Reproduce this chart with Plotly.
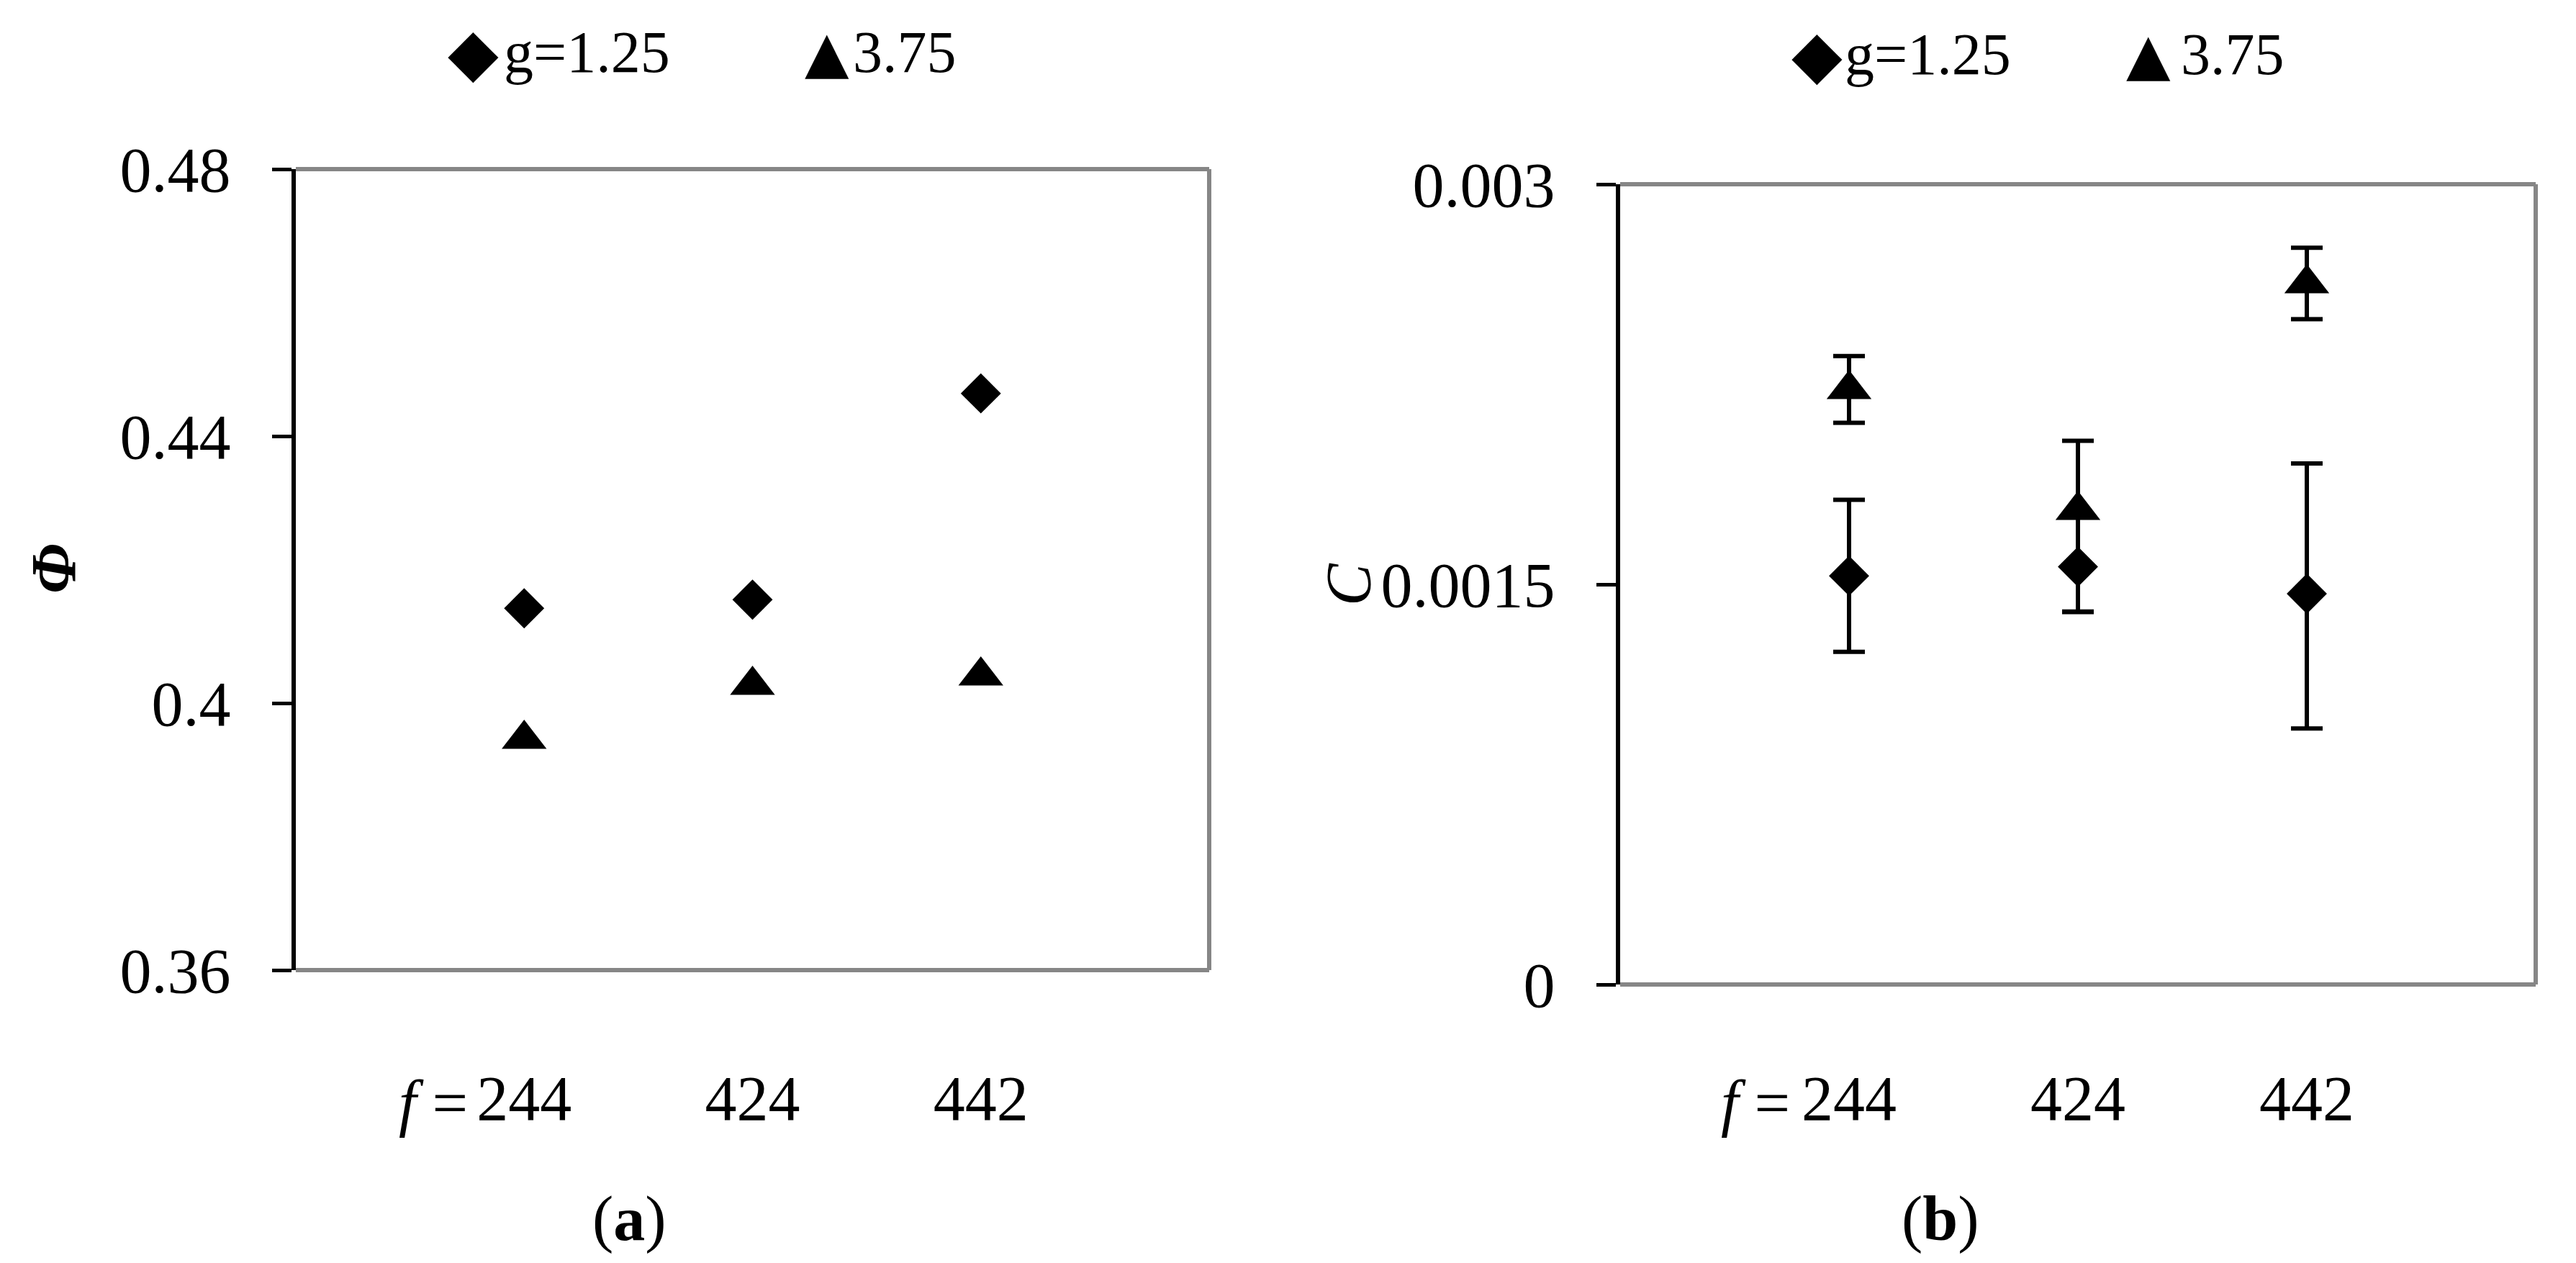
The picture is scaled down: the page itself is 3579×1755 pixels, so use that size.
import plotly.graph_objects as go

# ---------------- data ----------------
categories = ["244", "424", "442"]
cat_pos = [1, 2, 3]
series_names = ["g=1.25", "3.75"]

phi_g125 = [0.4142, 0.4155, 0.4464]
phi_g375 = [0.3946, 0.4027, 0.4041]

c_g125 = [0.001532, 0.001566, 0.001465]
c_g125_err_plus = [0.000285, 0.00019, 0.000488]
c_g125_err_minus = [0.000285, 0.00017, 0.000505]
c_g375 = [0.002231, 0.001778, 0.002628]
c_g375_err_plus = [0.000125, 0.00026, 0.000134]
c_g375_err_minus = [0.000125, 0.00038, 0.000134]

phi_ticks = [0.36, 0.4, 0.44, 0.48]
phi_ticktext = ["0.36", "0.4", "0.44", "0.48"]
c_ticks = [0, 0.0015, 0.003]
c_ticktext = ["0", "0.0015", "0.003"]

# ---------------- layout helpers ----------------
W, H = 3579, 1755
FONT = "Liberation Serif, Times New Roman, serif"
GLYPH_FONT = "DejaVu Sans"
GRAY = "#868686"


def fx(p):
    return p / W


def fy(p):
    return 1 - p / H


fig = go.Figure()

diamond = dict(symbol="diamond", size=43, color="black")
triangle = dict(symbol="triangle-up", size=54, color="black")

fig.add_trace(go.Scatter(x=cat_pos, y=phi_g125, mode="markers", marker=diamond,
                         name=series_names[0], xaxis="x", yaxis="y", showlegend=False,
                         cliponaxis=False))
fig.add_trace(go.Scatter(x=cat_pos, y=phi_g375, mode="markers", marker=triangle,
                         name=series_names[1], xaxis="x", yaxis="y", showlegend=False,
                         cliponaxis=False))

err_style = dict(type="data", symmetric=False, color="black", thickness=6, width=22)
fig.add_trace(go.Scatter(x=cat_pos, y=c_g125, mode="markers", marker=diamond,
                         name=series_names[0], xaxis="x2", yaxis="y2", showlegend=False,
                         error_y=dict(array=c_g125_err_plus, arrayminus=c_g125_err_minus, **err_style),
                         cliponaxis=False))
fig.add_trace(go.Scatter(x=cat_pos, y=c_g375, mode="markers", marker=triangle,
                         name=series_names[1], xaxis="x2", yaxis="y2", showlegend=False,
                         error_y=dict(array=c_g375_err_plus, arrayminus=c_g375_err_minus, **err_style),
                         cliponaxis=False))

tickfont = dict(family=FONT, size=88, color="black")

xcommon = dict(range=[0, 4], tickvals=cat_pos, ticktext=categories, showline=False,
               ticks="", showgrid=False, zeroline=False, tickfont=tickfont,
               fixedrange=True, automargin=False)
ycommon = dict(ticks="outside", ticklen=27, tickwidth=5, tickcolor="black",
               showline=True, linecolor="black", linewidth=6, showgrid=False,
               zeroline=False, tickfont=tickfont, ticklabelstandoff=40, fixedrange=True,
               automargin=False)

fig.update_layout(
    width=W, height=H,
    margin=dict(l=0, r=0, t=0, b=0, autoexpand=False),
    paper_bgcolor="white", plot_bgcolor="white",
    showlegend=False,
    xaxis=dict(domain=[fx(403), fx(1672)], anchor="y", ticklabelstandoff=119, **xcommon),
    yaxis=dict(domain=[fy(1340), fy(227)], anchor="x", range=[0.36, 0.48],
               tickvals=phi_ticks, ticktext=phi_ticktext, **ycommon),
    xaxis2=dict(domain=[fx(2243), fx(3515)], anchor="y2", ticklabelstandoff=99, **xcommon),
    yaxis2=dict(domain=[fy(1360), fy(248)], anchor="x2", range=[0, 0.003],
                tickvals=c_ticks, ticktext=c_ticktext, **ycommon),
)

# gray frame (top, right, bottom) for both panels
shapes = []
for xr, yr in (("x domain", "y domain"), ("x2 domain", "y2 domain")):
    for x0, y0, x1, y1 in ((0, 1, 1, 1), (1, 0, 1, 1), (0, 0, 1, 0)):
        shapes.append(dict(type="line", xref=xr, yref=yr, x0=x0, y0=y0, x1=x1, y1=y1,
                           line=dict(color=GRAY, width=6), layer="below"))
fig.update_layout(shapes=shapes)

ann = []
# y-axis titles
ann.append(dict(text="<b><i>Φ</i></b>", xref="paper", yref="paper", x=fx(66), y=fy(783),
                xanchor="center", yanchor="middle", textangle=-90, showarrow=False,
                font=dict(family=FONT, size=88, color="black")))
ann.append(dict(text="<i>C</i>", xref="paper", yref="paper", x=fx(1866), y=fy(804),
                xanchor="center", yanchor="middle", textangle=-90, showarrow=False,
                font=dict(family=FONT, size=88, color="black")))
# "f =" prefix before first category label
for xr, shift in (("x", -76), ("x2", -80)):
    ann.append(dict(text="<i>f</i> =", xref=xr, yref="paper", x=cat_pos[0], y=fy(1524),
                    xanchor="right", yanchor="middle", xshift=shift, showarrow=False,
                    font=dict(family=FONT, size=88, color="black")))
# panel labels
ann.append(dict(text="(<b>a</b>)", xref="paper", yref="paper", x=fx(866), y=fy(1685),
                xanchor="center", yanchor="middle", showarrow=False,
                font=dict(family=FONT, size=88, color="black")))
ann.append(dict(text="(<b>b</b>)", xref="paper", yref="paper", x=fx(2688), y=fy(1685),
                xanchor="center", yanchor="middle", showarrow=False,
                font=dict(family=FONT, size=88, color="black")))

# manual legends above each panel
legend_items = [
    # (glyph center x, text left x, center y)
    ((649, 690, 64), (1141, 1175, 64)),
    ((2516, 2553, 67), (2977, 3020, 67)),
]
glyphs = ["◆", "▲"]
glyph_sizes = [92, 80]
for panel in legend_items:
    for i, (gx, tx, cy) in enumerate(panel):
        ann.append(dict(text=glyphs[i], xref="paper", yref="paper", x=fx(gx), y=fy(cy),
                        xanchor="center", yanchor="middle", showarrow=False,
                        font=dict(family=GLYPH_FONT, size=glyph_sizes[i], color="black")))
        ann.append(dict(text=series_names[i], xref="paper", yref="paper", x=fx(tx), y=fy(cy),
                        xanchor="left", yanchor="middle", showarrow=False,
                        font=dict(family=FONT, size=82, color="black")))
fig.update_layout(annotations=ann)

fig.write_html("out.html")
